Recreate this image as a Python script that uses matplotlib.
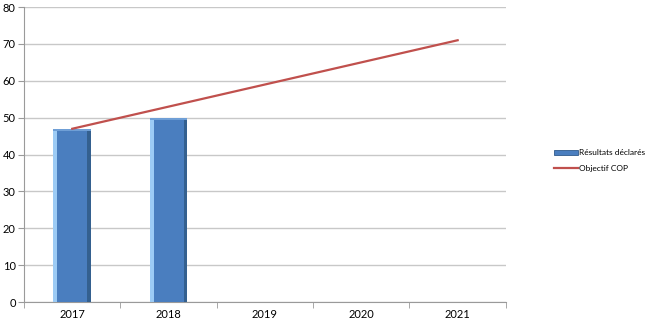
import matplotlib
matplotlib.use('Agg')
import matplotlib.pyplot as plt
import numpy as np
from matplotlib.patches import Patch
from matplotlib.lines import Line2D

plt.rcParams['font.family'] = ['Lato', 'DejaVu Sans']

# ── data ──────────────────────────────────────────────
years = ['2017', '2018', '2019', '2020', '2021']
resultats = [47, 50]          # Résultats déclarés (only first two years)
objectif = [47, 53, 59, 65, 71]  # Objectif COP

x = np.arange(len(years))
xb = x[:len(resultats)]

fig = plt.figure(figsize=(6.51, 3.21), dpi=100)
ax = fig.add_axes([0.037, 0.059, 0.740, 0.919])

# bars with a fake bevel: main body, light left strip, dark right strip
w = 0.39
ax.bar(xb, resultats, width=w, color='#4a7ebf', zorder=3)
ax.bar(xb - w / 2 + 0.02, resultats, width=0.04, color='#9ccbf5', zorder=4)
ax.bar(xb + w / 2 - 0.02, resultats, width=0.04, color='#34608f', zorder=4)
ax.bar(xb, [0.6] * len(xb), bottom=np.array(resultats) - 0.6, width=w,
       color='#6f9fd6', zorder=5)

ax.plot(x, objectif, color='#c0504d', lw=1.6, zorder=6)

ax.set_xlim(-0.5, len(years) - 0.5)
ax.set_ylim(0, 80)
ax.set_yticks(range(0, 81, 10))
ax.set_xticks(x)
ax.set_xticklabels(years)
ax.set_xticks(np.arange(-0.5, len(years), 1), minor=True)
ax.tick_params(axis='x', which='major', length=0, labelsize=8, pad=5)
ax.tick_params(axis='x', which='minor', length=4, color='#9a9a9a', direction='out')
ax.tick_params(axis='y', length=4, color='#9a9a9a', labelsize=8, pad=2)

ax.yaxis.grid(True, color='#c8c8c8', lw=1)
ax.set_axisbelow(True)
for s in ['top', 'right']:
    ax.spines[s].set_visible(False)
for s in ['left', 'bottom']:
    ax.spines[s].set_color('#9a9a9a')
    ax.spines[s].set_linewidth(0.8)

handles = [Patch(facecolor='#4a7ebf', edgecolor='#2f5a8c', lw=0.6),
           Line2D([0], [0], color='#c0504d', lw=1.6)]
fig.legend(handles, ['Résultats déclarés', 'Objectif COP'],
           loc='center left', bbox_to_anchor=(0.84, 0.5), frameon=False,
           fontsize=6, handlelength=2.8, handleheight=0.5,
           handletextpad=0.1, labelspacing=1.0)

fig.savefig('out.png', dpi=100)
